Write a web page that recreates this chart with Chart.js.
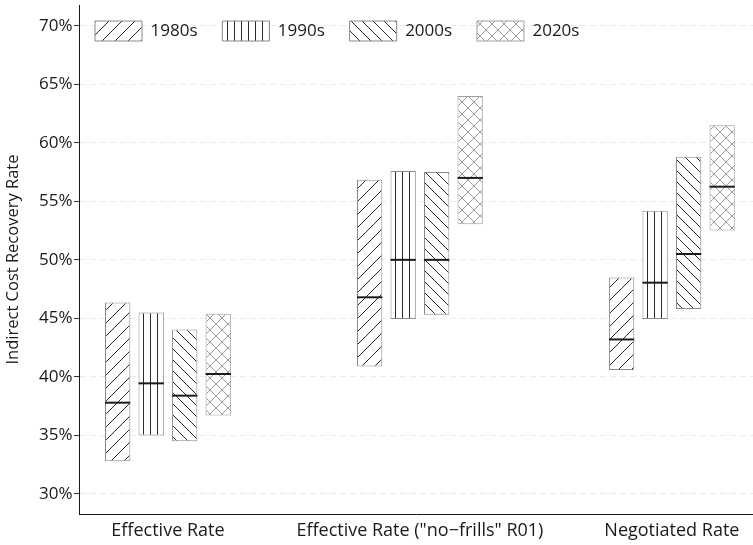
<!DOCTYPE html>
<html>
<head>
<meta charset="utf-8">
<script src="https://cdn.jsdelivr.net/npm/chart.js@4.4.1/dist/chart.umd.min.js"></script>
<style>
  html, body { margin: 0; padding: 0; background: #fff; }
</style>
</head>
<body>
<canvas id="myChart" width="753" height="545"></canvas>
<script>
// categories on the x axis
const categories = ["Effective Rate", "Effective Rate (\"no\u2212frills\" R01)", "Negotiated Rate"];
const decades = ["1980s", "1990s", "2000s", "2020s"];

// lower end, median, upper end of each bar (percent)
const low1980s = [32.8, 40.9, 40.6];
const med1980s = [37.8, 46.8, 43.2];
const high1980s = [46.35, 56.85, 48.5];

const low1990s = [35.0, 44.95, 44.95];
const med1990s = [39.45, 50.0, 48.05];
const high1990s = [45.5, 57.6, 54.2];

const low2000s = [34.5, 45.3, 45.8];
const med2000s = [38.4, 50.0, 50.5];
const high2000s = [44.05, 57.5, 58.8];

const low2020s = [36.7, 53.05, 52.5];
const med2020s = [40.25, 57.0, 56.25];
const high2020s = [45.4, 64.0, 61.5];

const yTicks = [30, 35, 40, 45, 50, 55, 60, 65, 70];

const lows = [low1980s, low1990s, low2000s, low2020s];
const meds = [med1980s, med1990s, med2000s, med2020s];
const highs = [high1980s, high1990s, high2000s, high2020s];

const FONT = "'Open Sans', sans-serif";
const TEXT = "#1a1a1a";
const MEDIAN_HALF = 0.085; // half thickness of the median stroke, in axis units

function hatch(kind) {
  const c = document.createElement("canvas");
  const g = c.getContext("2d");
  let s = 13;
  if (kind === "back") s = 11;
  if (kind === "vert") s = 7;
  if (kind === "cross") s = 12;
  c.width = s;
  c.height = s;
  g.fillStyle = "#fff";
  g.fillRect(0, 0, s, s);
  g.lineWidth = 1;
  g.strokeStyle = kind === "cross" ? "#9a9a9a" : "#2a2a2a";
  g.beginPath();
  if (kind === "fwd" || kind === "cross") {
    g.moveTo(-1, s + 1); g.lineTo(s + 1, -1);
    g.moveTo(-1, 1); g.lineTo(1, -1);
    g.moveTo(s - 1, s + 1); g.lineTo(s + 1, s - 1);
  }
  if (kind === "back" || kind === "cross") {
    g.moveTo(-1, -1); g.lineTo(s + 1, s + 1);
    g.moveTo(s - 1, -1); g.lineTo(s + 1, 1);
    g.moveTo(-1, s - 1); g.lineTo(1, s + 1);
  }
  if (kind === "vert") {
    g.moveTo(3.5, 0); g.lineTo(3.5, s);
  }
  g.stroke();
  return g.createPattern(c, "repeat");
}

const patterns = [hatch("fwd"), hatch("vert"), hatch("back"), hatch("cross")];
const borders = ["#8a8a8a", "#8a8a8a", "#8a8a8a", "#a0a0a0"];

const datasets = [];
// median strokes first so they are drawn on top
decades.forEach((d, k) => {
  datasets.push({
    label: d + " median",
    data: meds[k].map((m, i) => ({ x: i + 1, y: [m - MEDIAN_HALF, m + MEDIAN_HALF] })),
    backgroundColor: "#1a1a1a",
    borderWidth: 0,
    stack: d,
  });
});
decades.forEach((d, k) => {
  datasets.push({
    label: d,
    data: lows[k].map((lo, i) => ({ x: i + 1, y: [lo, highs[k][i]] })),
    backgroundColor: patterns[k],
    borderColor: borders[k],
    borderWidth: 1,
    borderSkipped: false,
    stack: d,
  });
});

// legend drawn over the plot, in one row, starting at the plot's left edge
const legendInPlot = {
  id: "legendInPlot",
  beforeLayout(chart) {
    const lg = chart.legend;
    if (lg && !lg._patched) {
      const fit = lg.fit;
      lg.fit = function () {
        fit.call(this);
        this._realHeight = this.height;
        this.height = 0;
      };
      lg._patched = true;
    }
  },
  afterLayout(chart) {
    const lg = chart.legend;
    lg.left = chart.chartArea.left;
    lg.height = lg._realHeight;
    lg.bottom = lg.top + lg._realHeight;
    lg.width = lg.right - lg.left;
  },
};

const ctx = document.getElementById("myChart").getContext("2d");
new Chart(ctx, {
  type: "bar",
  data: { datasets: datasets },
  plugins: [legendInPlot],
  options: {
    responsive: false,
    animation: false,
    layout: { padding: { top: 5, right: 0, left: 0, bottom: 0 } },
    datasets: {
      bar: { categoryPercentage: 0.532, barPercentage: 0.755 },
    },
    plugins: {
      tooltip: { enabled: false },
      legend: {
        position: "top",
        align: "start",
        labels: {
          boxWidth: 47,
          boxHeight: 20,
          padding: 16,
          color: TEXT,
          font: { family: FONT, size: 17 },
          generateLabels: function (chart) {
            return Chart.defaults.plugins.legend.labels
              .generateLabels(chart)
              .filter((it) => it.datasetIndex >= decades.length)
              .map((it) => Object.assign(it, { text: it.text + "  " }));
          },
        },
      },
    },
    scales: {
      x: {
        type: "linear",
        offset: false,
        bounds: "data",
        min: 0.647,
        max: 3.322,
        afterBuildTicks: (s) => { s.ticks = categories.map((c, i) => ({ value: i + 1 })); },
        afterFit: (s) => { s.height = 31; s.paddingLeft = 0; s.paddingRight = 0; },
        grid: { display: false, drawTicks: false, offset: false },
        border: { display: true, color: TEXT, width: 1 },
        ticks: {
          callback: (v) => categories[v - 1],
          includeBounds: false,
          padding: 6.5,
          autoSkip: false,
          maxRotation: 0,
          color: TEXT,
          font: { family: FONT, size: 18 },
        },
      },
      y: {
        stacked: false,
        min: 28.29,
        max: 71.77,
        afterBuildTicks: (s) => { s.ticks = yTicks.map((v) => ({ value: v })); },
        afterFit: (s) => { s.width = 79; s.paddingTop = 0; s.paddingBottom = 0; },
        grid: { color: "#ebebeb", lineWidth: 1, tickColor: "#333", tickLength: 5 },
        border: { color: TEXT, width: 1, dash: [6, 4] },
        ticks: {
          callback: (v) => v + "%",
          includeBounds: false,
          padding: 1.5,
          color: TEXT,
          font: { family: FONT, size: 17 },
        },
        title: {
          display: true,
          text: "Indirect Cost Recovery Rate",
          color: TEXT,
          font: { family: FONT, size: 16.5 },
          padding: { top: 3.5, bottom: 0 },
        },
      },
    },
  },
});
</script>
</body>
</html>
